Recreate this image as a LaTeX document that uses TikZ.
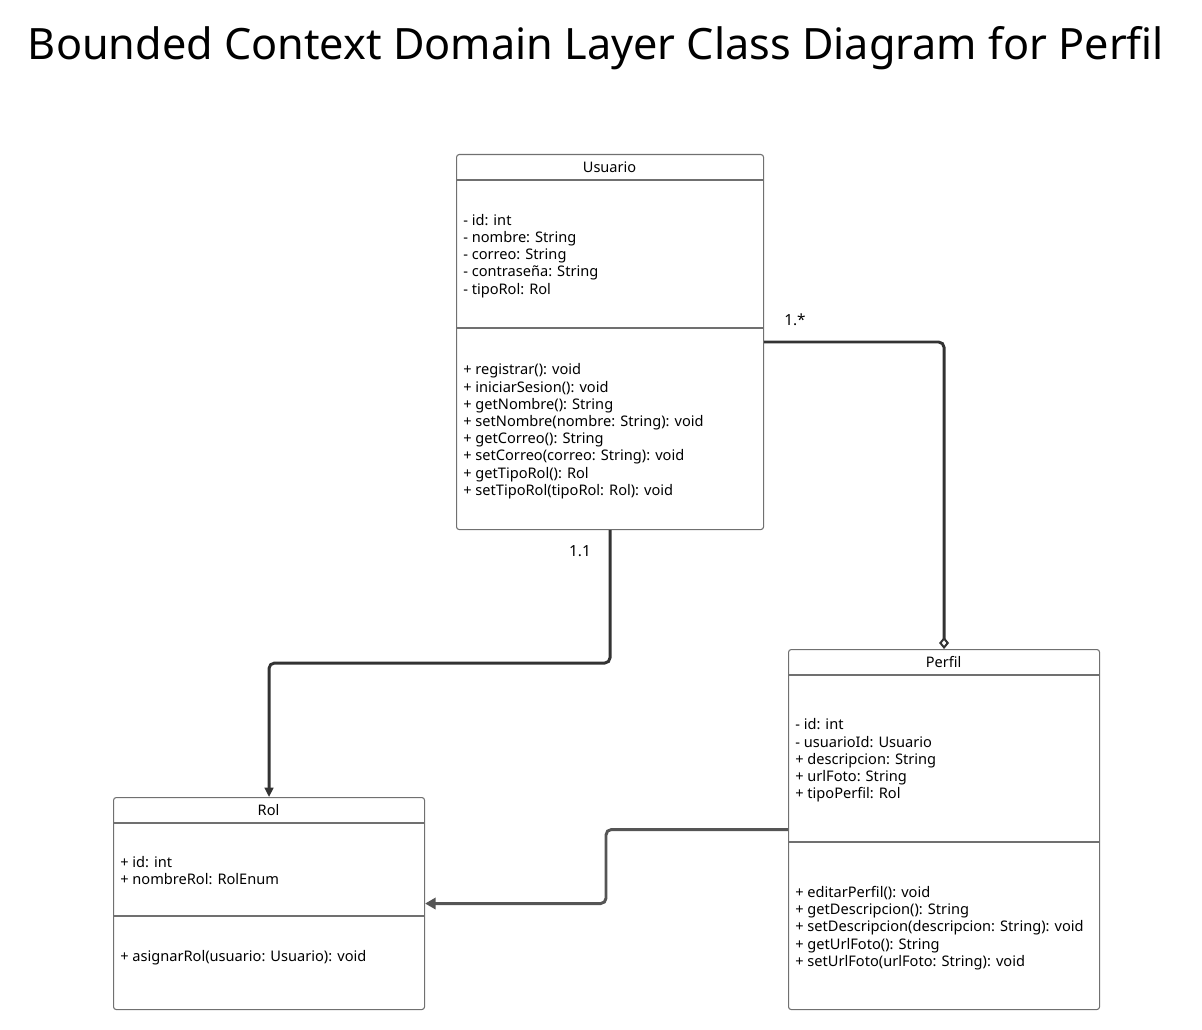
\documentclass[tikz,border=0pt]{standalone}
\usepackage{fontspec}
\setmainfont{Noto Sans}
\usetikzlibrary{arrows.meta}

\definecolor{boxgray}{HTML}{707070}
\definecolor{linkdark}{HTML}{333333}
\definecolor{linkgray}{HTML}{555555}

\tikzset{
  classbox/.style={draw=boxgray, line width=0.8pt, rounded corners=2pt,
    anchor=north west, inner sep=0pt},
  classname/.style={font=\fontsize{10.9}{12.9}\selectfont, inner sep=0pt},
  members/.style={font=\fontsize{10.95}{12.9}\selectfont, align=left,
    anchor=north west, inner sep=0pt},
  divider/.style={draw=boxgray, line width=0.8pt},
  assoc/.style={draw=linkdark, line width=2.2pt, rounded corners=4pt},
  multlabel/.style={font=\fontsize{11.5}{13}\selectfont, inner sep=0pt}
}

\begin{document}
\begin{tikzpicture}[x=0.75pt, y=-0.75pt]
  \useasboundingbox (0,0) rectangle (1202,1030);

  % Title
  \node[font=\fontsize{32.4}{36}\selectfont, inner sep=0pt] (title) at (596,48)
    {Bounded Context Domain Layer Class Diagram for Perfil};

  % The class Usuario
  \node[classbox, minimum width=307*0.75pt, minimum height=375*0.75pt] (usuario) at (456,154) {};
  \draw[divider] (456,180) -- (763,180);
  \draw[divider] (456,328) -- (763,328);
  \node[classname] (usuario name) at (609.5,167) {Usuario};
  \node[members] (usuario attrs) at (463,214) {%
    - id: int\\
    - nombre: String\\
    - correo: String\\
    - contraseña: String\\
    - tipoRol: Rol};
  \node[members] (usuario ops) at (463,363.5) {%
    + registrar(): void\\
    + iniciarSesion(): void\\
    + getNombre(): String\\
    + setNombre(nombre: String): void\\
    + getCorreo(): String\\
    + setCorreo(correo: String): void\\
    + getTipoRol(): Rol\\
    + setTipoRol(tipoRol: Rol): void};

  % The class Perfil
  \node[classbox, minimum width=311*0.75pt, minimum height=360*0.75pt] (perfil) at (788,649) {};
  \draw[divider] (788,675) -- (1099,675);
  \draw[divider] (788,842) -- (1099,842);
  \node[classname] (perfil name) at (943.5,662) {Perfil};
  \node[members] (perfil attrs) at (795,718.5) {%
    - id: int\\
    - usuarioId: Usuario\\
    + descripcion: String\\
    + urlFoto: String\\
    + tipoPerfil: Rol};
  \node[members] (perfil ops) at (795,886) {%
    + editarPerfil(): void\\
    + getDescripcion(): String\\
    + setDescripcion(descripcion: String): void\\
    + getUrlFoto(): String\\
    + setUrlFoto(urlFoto: String): void};

  % The class Rol
  \node[classbox, minimum width=311*0.75pt, minimum height=212*0.75pt] (rol) at (113,797) {};
  \draw[divider] (113,823) -- (424,823);
  \draw[divider] (113,916) -- (424,916);
  \node[classname] (rol name) at (268.5,810) {Rol};
  \node[members] (rol attrs) at (120,856) {%
    + id: int\\
    + nombreRol: RolEnum};
  \node[members] (rol ops) at (120,950) {%
    + asignarRol(usuario: Usuario): void};

  % The associations
  \draw[assoc, -{Diamond[open, fill=white, length=9pt, width=7.5pt, line width=1.5pt]}]
    (usuario.east) -| (perfil.north);
  \node[multlabel] (mult many) at (795,320) {1.*};
  \draw[assoc, -{Triangle[length=7pt, width=6.5pt]}]
    (usuario.south) -- ++(0,133) -| (rol.north);
  \node[multlabel] (mult one) at (580,551) {1.1};
  \draw[assoc, draw=linkgray, -{Triangle[length=8pt, width=8.5pt, fill=linkgray]}]
    (perfil.west) -- ++(-182,0) |- (rol.east);
\end{tikzpicture}
\end{document}
